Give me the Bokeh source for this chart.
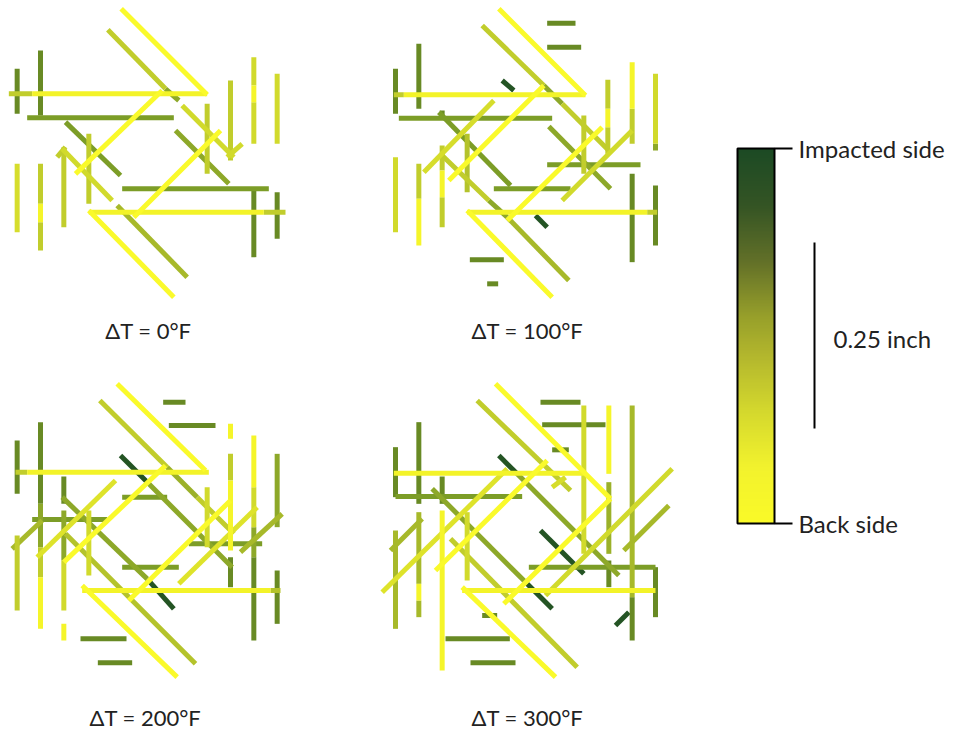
import numpy as np
from bokeh.plotting import figure
from bokeh.models import Range1d, ColumnDataSource, LinearColorMapper
from bokeh.transform import transform
from bokeh.core.properties import value
from bokeh.embed import file_html
from bokeh.resources import INLINE

# Damage segments per temperature difference.
# Each entry: (x0, y0, x1, y1, depth) in grid units (3 units = 1 px),
# depth 0 = back side, 1 = impacted side.
seg_0F = [
    (25, 280, 95, 280, 0.4), (95, 280, 620, 280, 0.12),
    (362, 25, 620, 283, 0.05),
    (322, 88, 495, 265, 0.4), (495, 265, 535, 300, 0.6),
    (50, 205, 50, 340, 0.78), (120, 150, 120, 345, 0.78),
    (80, 352, 520, 352, 0.67), (195, 365, 360, 525, 0.67),
    (225, 520, 485, 270, 0.05), (265, 400, 265, 610, 0.4),
    (170, 470, 195, 440, 0.4), (185, 445, 335, 600, 0.33),
    (350, 615, 560, 830, 0.5), (50, 490, 50, 695, 0.3),
    (120, 490, 120, 610, 0.4), (120, 610, 120, 665, 0.1), (120, 665, 120, 750, 0.4),
    (190, 440, 190, 680, 0.4), (265, 630, 520, 890, 0.05),
    (265, 635, 790, 635, 0.12), (790, 635, 855, 635, 0.4),
    (365, 565, 805, 565, 0.67), (760, 570, 760, 770, 0.78), (830, 575, 830, 715, 0.78),
    (400, 650, 660, 390, 0.05), (525, 390, 685, 550, 0.6),
    (620, 310, 620, 520, 0.4), (545, 315, 700, 470, 0.33), (680, 470, 725, 430, 0.33),
    (690, 240, 690, 480, 0.4),
    (760, 170, 760, 255, 0.33), (760, 255, 760, 305, 0.1), (760, 305, 760, 430, 0.33),
    (830, 220, 830, 430, 0.33),
]

seg_100F = [
    (385, 25, 645, 285, 0.05),
    (70, 283, 100, 283, 0.4), (100, 283, 645, 283, 0.12),
    (335, 75, 520, 255, 0.4), (520, 255, 575, 310, 0.6), (575, 310, 720, 455, 0.4),
    (530, 68, 615, 68, 0.78), (530, 140, 632, 140, 0.78),
    (395, 240, 430, 270, 0.97),
    (75, 205, 75, 340, 0.78), (145, 130, 145, 325, 0.78),
    (85, 353, 545, 353, 0.67), (205, 335, 420, 555, 0.67),
    (215, 465, 355, 600, 0.4), (355, 600, 410, 650, 0.6), (410, 650, 595, 840, 0.5),
    (495, 645, 530, 680, 0.97),
    (215, 330, 215, 350, 0.78),
    (215, 435, 215, 510, 0.4), (215, 510, 215, 590, 0.1), (215, 590, 215, 680, 0.4),
    (235, 540, 520, 255, 0.05), (160, 515, 370, 300, 0.3),
    (145, 490, 145, 595, 0.4), (145, 595, 145, 735, 0.1),
    (75, 470, 75, 695, 0.33), (290, 400, 290, 575, 0.45),
    (370, 565, 600, 565, 0.67),
    (290, 630, 545, 890, 0.05),
    (290, 635, 830, 635, 0.12), (830, 635, 860, 635, 0.4),
    (410, 660, 695, 380, 0.05), (535, 378, 720, 565, 0.6),
    (530, 493, 810, 493, 0.67), (640, 345, 640, 520, 0.4),
    (712, 238, 712, 325, 0.4), (712, 325, 712, 380, 0.1), (712, 380, 712, 460, 0.4),
    (785, 185, 785, 325, 0.1), (785, 325, 785, 430, 0.4),
    (575, 600, 785, 390, 0.33),
    (855, 220, 855, 430, 0.33), (855, 430, 855, 450, 0.6),
    (785, 520, 785, 785, 0.78), (855, 555, 855, 735, 0.78),
    (298, 778, 400, 778, 0.78), (350, 850, 383, 850, 0.78),
]

seg_200F = [
    (350, 40, 615, 300, 0.05),
    (45, 305, 80, 305, 0.4), (80, 305, 625, 305, 0.12),
    (298, 90, 500, 290, 0.4), (500, 290, 590, 380, 0.55), (590, 380, 700, 490, 0.4),
    (488, 95, 555, 95, 0.78), (505, 165, 645, 165, 0.78),
    (360, 255, 445, 340, 0.97), (445, 340, 695, 590, 0.6),
    (365, 380, 500, 380, 0.67),
    (50, 210, 50, 370, 0.78),
    (120, 155, 120, 400, 0.78), (120, 400, 120, 530, 0.6),
    (120, 530, 120, 620, 0.4), (120, 620, 120, 775, 0.1),
    (190, 318, 190, 400, 0.78), (190, 420, 190, 570, 0.6),
    (190, 570, 190, 720, 0.33), (190, 760, 190, 810, 0.1),
    (95, 447, 320, 447, 0.67),
    (35, 535, 125, 450, 0.5), (110, 560, 345, 330, 0.25),
    (50, 495, 50, 720, 0.4), (265, 420, 265, 615, 0.33),
    (185, 380, 440, 625, 0.6), (440, 625, 520, 715, 0.97),
    (195, 490, 585, 880, 0.45),
    (245, 645, 530, 920, 0.05),
    (245, 660, 810, 660, 0.12), (810, 660, 840, 660, 0.45),
    (190, 575, 495, 285, 0.05), (385, 690, 690, 390, 0.05),
    (365, 590, 535, 590, 0.67),
    (535, 640, 770, 410, 0.25), (720, 545, 845, 430, 0.5),
    (565, 520, 785, 520, 0.67), (620, 350, 620, 530, 0.33),
    (690, 160, 690, 205, 0.1), (690, 250, 690, 330, 0.4),
    (690, 330, 690, 540, 0.1), (690, 560, 690, 650, 0.78),
    (760, 195, 760, 350, 0.1), (760, 350, 760, 470, 0.33),
    (760, 470, 760, 560, 0.6), (760, 560, 760, 810, 0.78),
    (830, 250, 830, 470, 0.6), (830, 600, 830, 760, 0.78),
    (240, 805, 378, 805, 0.78), (292, 877, 395, 877, 0.78),
]

seg_300F = [
    (375, 40, 720, 385, 0.05),
    (70, 308, 640, 308, 0.12),
    (320, 90, 600, 360, 0.4),
    (510, 95, 630, 95, 0.78), (515, 163, 705, 163, 0.78),
    (640, 105, 640, 550, 0.33),
    (715, 105, 715, 310, 0.1), (715, 335, 715, 550, 0.55), (715, 570, 715, 650, 0.78),
    (785, 105, 785, 680, 0.5), (785, 680, 785, 810, 0.78),
    (545, 238, 595, 238, 0.78),
    (385, 255, 440, 310, 0.97), (440, 310, 745, 615, 0.6),
    (545, 350, 585, 320, 0.3),
    (75, 230, 75, 380, 0.78), (145, 155, 145, 400, 0.78),
    (75, 378, 455, 378, 0.67), (215, 318, 215, 400, 0.78),
    (35, 665, 410, 295, 0.25), (195, 600, 530, 270, 0.05),
    (185, 355, 470, 640, 0.6), (470, 640, 545, 715, 0.97),
    (75, 480, 75, 775, 0.5),
    (145, 425, 145, 640, 0.5), (145, 640, 145, 690, 0.1), (145, 690, 145, 740, 0.5),
    (60, 540, 155, 445, 0.5),
    (215, 420, 215, 900, 0.1), (290, 425, 290, 630, 0.33),
    (240, 505, 620, 890, 0.4),
    (275, 650, 555, 920, 0.05), (275, 660, 855, 660, 0.12),
    (400, 700, 720, 385, 0.05),
    (510, 480, 640, 610, 0.97),
    (475, 590, 855, 590, 0.67), (855, 590, 855, 740, 0.78),
    (525, 675, 905, 295, 0.33), (760, 540, 895, 405, 0.5),
    (735, 765, 775, 725, 0.97),
    (225, 805, 418, 805, 0.78), (300, 877, 435, 877, 0.78),
    (335, 735, 380, 735, 0.78),
]

panel_segments = [seg_0F, seg_100F, seg_200F, seg_300F]
panel_labels = ["ΔT = 0°F", "ΔT = 100°F", "ΔT = 200°F", "ΔT = 300°F"]
panel_origin_x = [0, 370, 0, 370]
panel_origin_y = [0, 0, 370, 370]
label_x = [148, 527, 145, 527]
label_y = [330, 330, 717, 717]
GRID = 1.0 / 3.0

# Segment colours by depth: back side (yellow) to impacted side (dark green)
seg_stops = [(0.0, (255, 255, 45)), (0.15, (240, 240, 40)), (0.35, (205, 215, 45)),
             (0.5, (168, 185, 42)), (0.65, (128, 160, 40)), (0.8, (100, 135, 35)),
             (1.0, (26, 76, 36))]
# Shading of the depth bar
bar_stops = [(0.0, (250, 250, 40)), (0.15, (242, 242, 45)), (0.3, (212, 216, 45)),
             (0.45, (178, 182, 45)), (0.55, (152, 160, 42)), (0.7, (98, 112, 40)),
             (0.85, (52, 84, 36)), (1.0, (28, 74, 36))]


def build_palette(stops, n=256):
    out = []
    for t in np.linspace(0, 1, n):
        for (t0, c0), (t1, c1) in zip(stops[:-1], stops[1:]):
            if t0 <= t <= t1:
                f = (t - t0) / (t1 - t0)
                rgb = [round(a + (b - a) * f) for a, b in zip(c0, c1)]
                out.append("#%02x%02x%02x" % tuple(rgb))
                break
    return out


seg_mapper = LinearColorMapper(palette=build_palette(seg_stops), low=0, high=1)
bar_mapper = LinearColorMapper(palette=build_palette(bar_stops), low=0, high=1)

W, H = 954, 733
p = figure(width=W, height=H, x_range=Range1d(0, W), y_range=Range1d(H, 0),
           output_backend="svg", toolbar_location=None, min_border=0)
p.axis.visible = False
p.grid.visible = False
p.outline_line_color = None
p.background_fill_color = "white"
p.border_fill_color = "white"

for segs, ox, oy in zip(panel_segments, panel_origin_x, panel_origin_y):
    ordered = sorted(segs, key=lambda s: -s[4])
    src = ColumnDataSource(dict(
        x0=[ox + s[0] * GRID for s in ordered], y0=[oy + s[1] * GRID for s in ordered],
        x1=[ox + s[2] * GRID for s in ordered], y1=[oy + s[3] * GRID for s in ordered],
        depth=[s[4] for s in ordered]))
    p.segment("x0", "y0", "x1", "y1", source=src, line_width=5, line_cap="butt",
              line_color=transform("depth", seg_mapper))

p.text(x=label_x, y=label_y, text=panel_labels, text_font=value("Lato"),
       text_font_size="22px", text_align="center", text_baseline="middle",
       text_color="#222222")

# Depth bar
cb_x0, cb_x1, cb_top, cb_bottom = 737, 774, 148, 523
grad = np.linspace(1, 0, 256).reshape(256, 1)
p.image(image=[grad], x=cb_x0, y=cb_top, dw=cb_x1 - cb_x0, dh=cb_bottom - cb_top,
        color_mapper=bar_mapper)
p.quad(left=cb_x0, right=cb_x1, top=cb_top, bottom=cb_bottom, fill_color=None,
       line_color="black", line_width=2)
p.segment(x0=[cb_x1, cb_x1], y0=[cb_top, cb_bottom], x1=[792, 792], y1=[cb_top, cb_bottom],
          line_color="black", line_width=2)
p.text(x=[798, 798], y=[cb_top, cb_bottom], text=["Impacted side", "Back side"],
       text_font=value("Lato"), text_font_size="24px", text_baseline="middle",
       text_color="#222222")

# Scale bar
p.segment(x0=[814], y0=[242], x1=[814], y1=[428], line_color="black", line_width=2)
p.text(x=[833], y=[338], text=["0.25 inch"], text_font=value("Lato"),
       text_font_size="24px", text_baseline="middle", text_color="#222222")

open("out.html", "w").write(file_html(p, INLINE))
